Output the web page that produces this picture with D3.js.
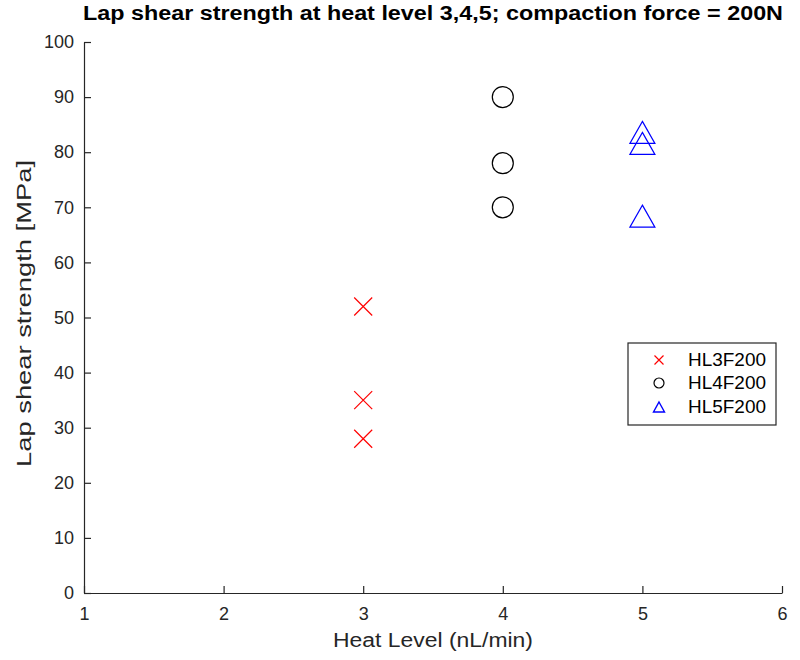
<!DOCTYPE html>
<html>
<head>
<meta charset="utf-8">
<script src="https://cdn.jsdelivr.net/npm/d3@7"></script>
<style>
  body { margin: 0; background: #fff; }
  text { font-family: "Liberation Sans", Arial, sans-serif; }
</style>
</head>
<body>
<svg id="chart" width="800" height="660"></svg>
<script>
// data
const hl3 = [52, 35, 28];
const hl4 = [90, 78, 70];
const hl5 = [83.6, 81.6, 68.4];
const seriesNames = ["HL3F200", "HL4F200", "HL5F200"];
const heatLevels = [3, 4, 5];
const xTicks = [1, 2, 3, 4, 5, 6];
const yTicks = [0, 10, 20, 30, 40, 50, 60, 70, 80, 90, 100];

const svg = d3.select("#chart");
const margin = {left: 84, right: 18, top: 42, bottom: 67};
const width = 800, height = 660;
const axisColor = "#262626";

const x = d3.scaleLinear().domain([1, 6]).range([margin.left, width - margin.right]);
const y = d3.scaleLinear().domain([0, 100]).range([height - margin.bottom, margin.top]);

// axes (ticks inward, no box)
const xAxis = svg.append("g")
    .attr("transform", `translate(0,${height - margin.bottom})`)
    .call(d3.axisBottom(x).tickValues(xTicks).tickFormat(d3.format("d"))
        .tickSizeInner(-7).tickSizeOuter(0).tickPadding(21));
const yAxis = svg.append("g")
    .attr("transform", `translate(${margin.left},0)`)
    .call(d3.axisLeft(y).tickValues(yTicks).tickSizeInner(-7).tickSizeOuter(0).tickPadding(10));

[xAxis, yAxis].forEach(a => {
    a.select(".domain").attr("stroke", axisColor).attr("stroke-width", 1.2);
    a.selectAll(".tick line").attr("stroke", axisColor).attr("stroke-width", 1.2);
    a.selectAll(".tick text").attr("fill", axisColor).style("font-size", "18px");
});
xAxis.selectAll(".tick text").attr("dy", "0.35em");

// title and labels
svg.append("text")
    .attr("x", (margin.left + width - margin.right) / 2)
    .attr("y", 20)
    .attr("text-anchor", "middle")
    .attr("textLength", 700)
    .attr("lengthAdjust", "spacingAndGlyphs")
    .style("font-size", "20px")
    .style("font-weight", "bold")
    .attr("fill", "#000")
    .text("Lap shear strength at heat level 3,4,5; compaction force = 200N");

svg.append("text")
    .attr("x", (margin.left + width - margin.right) / 2)
    .attr("y", 647)
    .attr("text-anchor", "middle")
    .attr("textLength", 200)
    .attr("lengthAdjust", "spacingAndGlyphs")
    .style("font-size", "20px")
    .attr("fill", axisColor)
    .text("Heat Level (nL/min)");

svg.append("text")
    .attr("transform", `translate(31,${(margin.top + height - margin.bottom) / 2 - 4}) rotate(-90)`)
    .attr("text-anchor", "middle")
    .attr("textLength", 307)
    .attr("lengthAdjust", "spacingAndGlyphs")
    .style("font-size", "20px")
    .attr("fill", axisColor)
    .text("Lap shear strength [MPa]");

// marker shapes
const crossPath = s => `M${-s},${-s}L${s},${s}M${-s},${s}L${s},${-s}`;
const triPath = (w, h) => `M0,${-h / 2}L${w / 2},${h / 2}L${-w / 2},${h / 2}Z`;

const plot = svg.append("g");

plot.selectAll(".hl3").data(hl3).enter().append("path")
    .attr("transform", d => `translate(${x(heatLevels[0])},${y(d)})`)
    .attr("d", crossPath(9))
    .attr("stroke", "#ff0000").attr("stroke-width", 1.2).attr("fill", "none");

plot.selectAll(".hl4").data(hl4).enter().append("circle")
    .attr("cx", x(heatLevels[1]))
    .attr("cy", d => y(d))
    .attr("r", 10.5)
    .attr("stroke", "#000").attr("stroke-width", 1.2).attr("fill", "none");

plot.selectAll(".hl5").data(hl5).enter().append("path")
    .attr("transform", d => `translate(${x(heatLevels[2])},${y(d)})`)
    .attr("d", triPath(25, 22))
    .attr("stroke", "#0000ff").attr("stroke-width", 1.2).attr("fill", "none");

// legend
const lg = svg.append("g").attr("transform", "translate(628,343)");
lg.append("rect").attr("width", 148).attr("height", 82)
    .attr("fill", "#fff").attr("stroke", axisColor).attr("stroke-width", 1.2);
const rowY = [17, 40, 64];
const markerX = 31;
seriesNames.forEach((name, i) => {
    const g = lg.append("g").attr("transform", `translate(${markerX},${rowY[i]})`);
    if (i === 0) g.append("path").attr("d", crossPath(4.5)).attr("stroke", "#ff0000").attr("stroke-width", 1.2).attr("fill", "none");
    if (i === 1) g.append("circle").attr("r", 5).attr("stroke", "#000").attr("stroke-width", 1.2).attr("fill", "none");
    if (i === 2) g.append("path").attr("d", triPath(11, 10)).attr("stroke", "#0000ff").attr("stroke-width", 1.4).attr("fill", "none");
    lg.append("text")
        .attr("x", 60).attr("y", rowY[i]).attr("dy", "0.35em")
        .attr("textLength", 78)
        .attr("lengthAdjust", "spacingAndGlyphs")
        .style("font-size", "18px").attr("fill", "#000")
        .text(name);
});
</script>
</body>
</html>
